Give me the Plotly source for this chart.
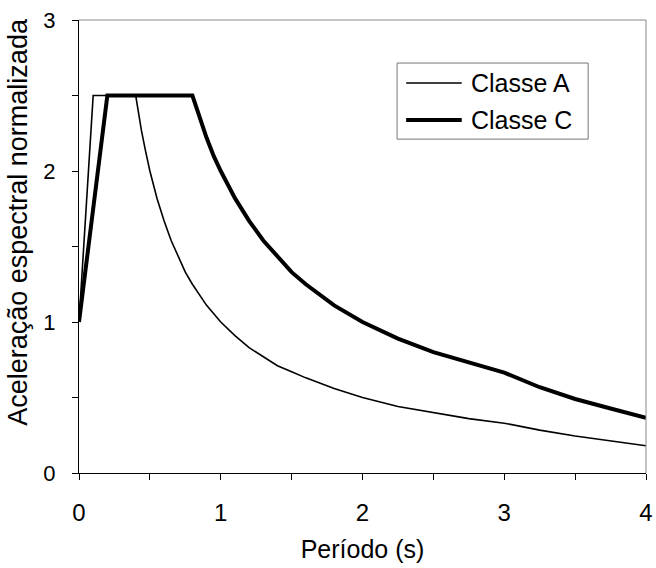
import plotly.graph_objects as go

# Data
periodo_a = [0, 0.1, 0.4, 0.42, 0.44, 0.47, 0.5, 0.55, 0.6, 0.65, 0.7, 0.75, 0.8, 0.9, 1.0, 1.1,
             1.2, 1.3, 1.4, 1.5, 1.6, 1.8, 2.0, 2.25, 2.5, 2.75, 3.0, 3.25, 3.5, 3.75, 4.0]
classe_a = [1.0, 2.5, 2.5, 2.38, 2.27, 2.13, 2.0, 1.82, 1.67, 1.54, 1.43, 1.33, 1.25, 1.11, 1.0,
            0.91, 0.83, 0.77, 0.71, 0.67, 0.63, 0.56, 0.5, 0.44, 0.4, 0.36, 0.33, 0.284, 0.245,
            0.213, 0.18]

periodo_c = [0, 0.2, 0.8, 0.83, 0.86, 0.9, 0.95, 1.0, 1.1, 1.2, 1.3, 1.4, 1.5, 1.6, 1.8, 2.0,
             2.25, 2.5, 2.75, 3.0, 3.25, 3.5, 3.75, 4.0]
classe_c = [1.0, 2.5, 2.5, 2.41, 2.33, 2.22, 2.1, 2.0, 1.82, 1.67, 1.54, 1.43, 1.33, 1.25, 1.11,
            1.0, 0.89, 0.8, 0.73, 0.665, 0.568, 0.49, 0.427, 0.365]

series_names = ["Classe A", "Classe C"]
x_ticks = [0, 1, 2, 3, 4]
y_ticks = [0, 1, 2, 3]

FONT = "Liberation Sans, Arial, sans-serif"
widths = [1.6, 4]

fig = go.Figure()
fig.add_trace(go.Scatter(x=periodo_a, y=classe_a, mode="lines", name=series_names[0],
                         line=dict(color="black", width=widths[0]), showlegend=False))
fig.add_trace(go.Scatter(x=periodo_c, y=classe_c, mode="lines", name=series_names[1],
                         line=dict(color="black", width=widths[1]), showlegend=False))

fig.update_layout(
    width=656, height=568,
    margin=dict(l=79, r=10, t=20, b=95),
    paper_bgcolor="white", plot_bgcolor="white",
    font=dict(family=FONT, size=24, color="black"),
    showlegend=False,
    xaxis=dict(range=[0, 4], tickvals=x_ticks, ticks="outside", ticklen=6, tickwidth=1,
               tickcolor="black", showline=True, linecolor="black", linewidth=1,
               showgrid=False, zeroline=False, ticklabelstandoff=12, automargin=False,
               tickfont=dict(size=24),
               minor=dict(dtick=0.5, ticks="outside", ticklen=6, tickcolor="black"),
               title=dict(text="Período (s)", standoff=15, font=dict(size=25))),
    yaxis=dict(range=[0, 3], tickvals=y_ticks, ticks="outside", ticklen=6, tickwidth=1,
               tickcolor="black", showline=True, linecolor="black", linewidth=1,
               showgrid=False, zeroline=False, ticklabelstandoff=12, automargin=False,
               tickfont=dict(size=22),
               minor=dict(dtick=0.5, ticks="outside", ticklen=6, tickcolor="black")),
)

# y-axis title (placed as in the reference, slightly above centre)
fig.add_annotation(text="Aceleração espectral normalizada", textangle=-90,
                   xref="paper", yref="paper", x=-0.108, y=0.554,
                   xanchor="center", yanchor="middle", showarrow=False,
                   font=dict(size=27))

# gray top and right frame lines
fig.add_shape(type="line", xref="paper", yref="paper", x0=0, x1=1, y0=1, y1=1,
              line=dict(color="#888", width=1))
fig.add_shape(type="line", xref="paper", yref="paper", x0=1, x1=1, y0=0, y1=1,
              line=dict(color="#888", width=1))

# legend box drawn by hand (wide line samples as in the reference)
fig.add_shape(type="rect", xref="paper", yref="paper", x0=0.561, x1=0.898, y0=0.737, y1=0.905,
              line=dict(color="#777", width=1), fillcolor="white", layer="above")
for name, w, yl in zip(series_names, widths, [0.861, 0.779]):
    fig.add_shape(type="line", xref="paper", yref="paper", x0=0.577, x1=0.675, y0=yl, y1=yl,
                  line=dict(color="black", width=w), layer="above")
    fig.add_annotation(text=name, xref="paper", yref="paper", x=0.688, y=yl,
                       xanchor="left", yanchor="middle", showarrow=False,
                       font=dict(size=25))

fig.write_html("out.html")
